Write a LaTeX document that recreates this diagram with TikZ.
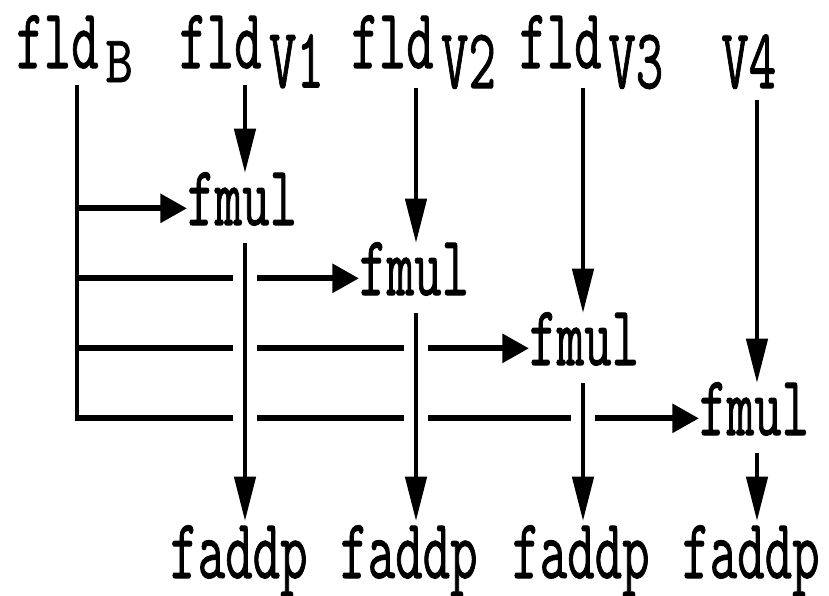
\documentclass[tikz,border=0pt]{standalone}
\usepackage{fontspec}
\usepackage{graphicx}
\usetikzlibrary{arrows.meta}
\newfontfamily\opfont{Latin Modern Mono}[FakeBold=1.2]
% opcode text: typewriter face, stretched vertically
\newcommand\optext[1]{\scalebox{1}[1.6]{\opfont\fontsize{40}{40}\selectfont #1}}
\tikzset{
  opnode/.style={inner sep=0pt, anchor=base west},
  toplabel/.style={opnode, text height=39pt},
  fmulbox/.style={opnode, text height=39pt, text depth=13.5pt},
  faddpbox/.style={opnode, text height=42.75pt, text depth=0pt},
  vline/.style={line width=2.6pt},
  hline/.style={line width=4.5pt},
  varrow/.style={vline, -{Triangle[length=33pt,width=16pt]}},
  harrow/.style={hline, -{Triangle[length=20pt,width=21pt]}},
  gap/.style={white, line width=18pt, shorten >=45pt},
}
\begin{document}
\begin{tikzpicture}[x=0.75pt, y=-0.75pt]
\useasboundingbox (0,0) rectangle (829,596);

% columns of the data flow
\coordinate (colB) at (77,0);
\coordinate (col1) at (245,0);
\coordinate (col2) at (416,0);
\coordinate (col3) at (583,0);
\coordinate (col4) at (757,0);

% loads
\node[toplabel, text depth=12.75pt] (fldB) at (16,68)
  {\optext{fld}\kern5pt\raisebox{-10.5pt}{\scalebox{1}[0.78]{\optext{B}}}};
\node[toplabel, text depth=12.75pt] (fldV1) at (179,68)
  {\optext{fld}\kern5.5pt\raisebox{-14.5pt}{\optext{V1}}};
\node[toplabel, text depth=15pt] (fldV2) at (351,68)
  {\optext{fld}\kern5.5pt\raisebox{-15pt}{\optext{V2}}};
\node[toplabel, text depth=15pt] (fldV3) at (519,68)
  {\optext{fld}\kern5pt\raisebox{-15pt}{\optext{V3}}};
\node[toplabel, text depth=9pt] (V4) at (721,88) {\optext{V4}};

% multiplies
\node[fmulbox] (fmul1) at (187,225) {\optext{fmul}};
\node[fmulbox] (fmul2) at (359,295) {\optext{fmul}};
\node[fmulbox] (fmul3) at (529,365) {\optext{fmul}};
\node[fmulbox] (fmul4) at (699,435) {\optext{fmul}};

% adds
\node[faddpbox] (faddp1) at (170,578) {\optext{faddp}};
\node[faddpbox] (faddp2) at (340,578) {\optext{faddp}};
\node[faddpbox] (faddp3) at (512,578) {\optext{faddp}};
\node[faddpbox] (faddp4) at (682,578) {\optext{faddp}};

% rows where B enters each fmul
\foreach \k in {1,2,3,4}
  \coordinate (r\k) at ([yshift=12.5pt]fmul\k.base west);

% B broadcast
\draw[vline, shorten >=-2.25pt] (fldB.south -| colB) -- (colB |- r4);
\foreach \k in {1,2,3,4}
  \draw[harrow, shorten <=-1.3pt] (colB |- r\k) -- (r\k);

% break the B rows where the product lines pass
\draw[gap] (fmul1.south -| col1) -- (faddp1.north -| col1);
\draw[gap] (fmul2.south -| col2) -- (faddp2.north -| col2);
\draw[gap] (fmul3.south -| col3) -- (faddp3.north -| col3);

% vector loads into the multiplies
\draw[varrow] (fldV1.south -| col1) -- (fmul1.north -| col1);
\draw[varrow] (fldV2.south -| col2) -- (fmul2.north -| col2);
\draw[varrow] (fldV3.south -| col3) -- (fmul3.north -| col3);
\draw[varrow] (V4.south -| col4) -- (fmul4.north -| col4);

% products into the adds
\draw[varrow] (fmul1.south -| col1) -- (faddp1.north -| col1);
\draw[varrow] (fmul2.south -| col2) -- (faddp2.north -| col2);
\draw[varrow] (fmul3.south -| col3) -- (faddp3.north -| col3);
\draw[varrow] (fmul4.south -| col4) -- (faddp4.north -| col4);
\end{tikzpicture}
\end{document}
